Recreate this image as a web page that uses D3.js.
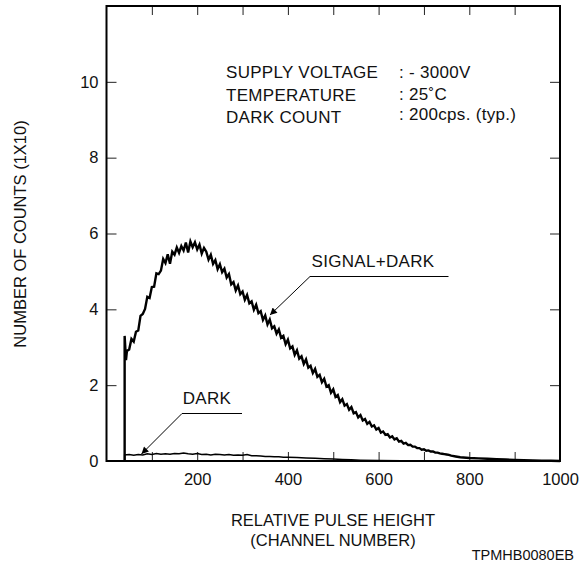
<!DOCTYPE html>
<html><head><meta charset="utf-8">
<script src="https://cdn.jsdelivr.net/npm/d3@7"></script>
<style>
html,body{margin:0;padding:0;background:#fff;}
svg{display:block;font-family:"Liberation Sans",Arial,Helvetica,sans-serif;}
</style></head>
<body>
<svg id="chart" width="580" height="569"></svg>
<script>
// ---- data ----
const xTickLabels = [200, 400, 600, 800, 1000];
const xMinorTicks = [100, 200, 300, 400, 500, 600, 700, 800, 900];
const yTickLabels = [0, 2, 4, 6, 8, 10];
const yInnerTicks = [2, 4, 6, 8, 10];

const signalChannel = [40,40,43,45,50,55,60,65,70,75,80,85,90,95,100,105,110,115,120,125,130,135,140,145,150,155,160,165,170,175,180,185,190,195,200,205,210,215,220,225,230,235,240,245,250,255,260,265,270,275,280,285,290,295,300,305,310,315,320,325,330,335,340,345,350,355,360,365,370,375,380,385,390,395,400,405,410,415,420,425,430,435,440,445,450,455,460,465,470,475,480,485,490,495,500,505,510,515,520,525,530,535,540,545,550,555,560,565,570,575,580,585,590,595,600,605,610,615,620,625,630,635,640,645,650,655,660,665,670,675,680,685,690,695,700,705,710,715,720,725,730,735,740,745,750,755,760,770,780,800,820,840,860,880,900,920,940,960,980,1000];
const signalCounts = [0,3.3,2.66,2.9,2.94,3.22,3.15,3.41,3.44,3.83,3.88,4.01,4.33,4.3,4.59,4.6,4.95,4.93,5.02,5.33,5.22,5.45,5.2,5.52,5.44,5.63,5.49,5.67,5.55,5.76,5.5,5.79,5.64,5.77,5.58,5.71,5.47,5.62,5.52,5.31,5.44,5.2,5.3,5.06,5.19,4.98,5.07,4.84,4.93,4.66,4.72,4.5,4.63,4.4,4.47,4.25,4.38,4.16,4.21,3.99,4.12,3.9,3.95,3.72,3.84,3.6,3.73,3.5,3.55,3.36,3.47,3.25,3.3,3.08,3.2,2.97,3.02,2.8,2.92,2.7,2.76,2.56,2.68,2.46,2.51,2.32,2.43,2.22,2.27,2.08,2.17,1.96,2.0,1.8,1.89,1.69,1.74,1.55,1.63,1.46,1.5,1.35,1.42,1.26,1.29,1.15,1.21,1.07,1.11,0.98,1.03,0.91,0.94,0.83,0.87,0.75,0.78,0.69,0.71,0.62,0.65,0.57,0.6,0.51,0.53,0.46,0.48,0.42,0.43,0.38,0.38,0.34,0.34,0.3,0.31,0.27,0.28,0.25,0.25,0.22,0.22,0.2,0.19,0.18,0.17,0.16,0.14,0.12,0.1,0.08,0.07,0.06,0.05,0.04,0.03,0.02,0.015,0.01,0.005,0];

const darkChannel = [40,40,50,60,70,80,90,100,110,120,130,140,150,160,170,180,190,200,210,220,230,240,250,260,270,280,290,300,310,320,330,340,350,360,370,380,390,400,420,440,460,480,500,520,540,560,600,650,700];
const darkCounts = [0,0.16,0.17,0.15,0.17,0.16,0.19,0.17,0.2,0.18,0.19,0.18,0.2,0.19,0.21,0.19,0.18,0.2,0.17,0.18,0.16,0.18,0.17,0.16,0.17,0.15,0.16,0.15,0.17,0.14,0.14,0.13,0.12,0.12,0.11,0.11,0.1,0.1,0.09,0.08,0.07,0.06,0.05,0.04,0.03,0.02,0.01,0.005,0];

const conditionNames = ["SUPPLY VOLTAGE", "TEMPERATURE", "DARK COUNT"];
const conditionValues = [": - 3000V", ": 25˚C", ": 200cps. (typ.)"];

// ---- layout ----
const svg = d3.select("#chart");
const L = 106.5, R = 560, T = 6, B = 461;
const x = d3.scaleLinear().domain([0, 1000]).range([L, R]);
const y = d3.scaleLinear().domain([0, 12]).range([B, T]);
const FONT = "Liberation Sans, Arial, sans-serif";

// inner ticks
svg.append("g").attr("transform", `translate(0,${B})`)
  .call(d3.axisTop(x).tickValues(xMinorTicks).tickSize(9).tickFormat(""))
  .call(g => g.select(".domain").remove())
  .call(g => g.selectAll("line").attr("stroke", "#222"));
svg.append("g").attr("transform", `translate(0,${T})`)
  .call(d3.axisBottom(x).tickValues(xMinorTicks).tickSize(9).tickFormat(""))
  .call(g => g.select(".domain").remove())
  .call(g => g.selectAll("line").attr("stroke", "#222"));
svg.append("g").attr("transform", `translate(${L},0)`)
  .call(d3.axisRight(y).tickValues(yInnerTicks).tickSize(10).tickFormat(""))
  .call(g => g.select(".domain").remove())
  .call(g => g.selectAll("line").attr("stroke", "#222"));
svg.append("g").attr("transform", `translate(${R},0)`)
  .call(d3.axisLeft(y).tickValues(yInnerTicks).tickSize(10).tickFormat(""))
  .call(g => g.select(".domain").remove())
  .call(g => g.selectAll("line").attr("stroke", "#222"));

// tick labels
svg.append("g").attr("transform", `translate(0,${B})`)
  .call(d3.axisBottom(x).tickValues(xTickLabels).tickSize(0).tickPadding(12).tickFormat(d3.format("d")))
  .call(g => g.select(".domain").remove())
  .call(g => g.selectAll("text").attr("font-size", 16.5).attr("fill", "#111").attr("font-family", FONT));
svg.append("g").attr("transform", `translate(${L},0)`)
  .call(d3.axisLeft(y).tickValues(yTickLabels).tickSize(0).tickPadding(8).tickFormat(d3.format("d")))
  .call(g => g.select(".domain").remove())
  .call(g => g.selectAll("text").attr("font-size", 16.5).attr("fill", "#111").attr("font-family", FONT));

// frame
svg.append("rect").attr("x", L).attr("y", T).attr("width", R - L).attr("height", B - T)
  .attr("fill", "none").attr("stroke", "#000").attr("stroke-width", 2);

// curves
const line = d3.line().x(d => x(d[0])).y(d => y(d[1]));
svg.append("path").datum(darkChannel.map((c, i) => [c, darkCounts[i]]))
  .attr("d", line).attr("fill", "none").attr("stroke", "#000").attr("stroke-width", 1.5);
svg.append("path").datum(signalChannel.map((c, i) => [c, signalCounts[i]]))
  .attr("d", line).attr("fill", "none").attr("stroke", "#000").attr("stroke-width", 2.4).attr("stroke-linejoin", "miter");

// arrow marker
const defs = svg.append("defs");
defs.append("marker").attr("id", "ah").attr("viewBox", "0 0 10 10").attr("refX", 10).attr("refY", 5)
  .attr("markerWidth", 9).attr("markerHeight", 7).attr("markerUnits", "userSpaceOnUse").attr("orient", "auto")
  .append("path").attr("d", "M0,0 L10,5 L0,10 Z").attr("fill", "#000");

// annotations
function annot(label, tx, ty, lx1, lx2, ly, ax, ay) {
  svg.append("text").attr("x", tx).attr("y", ty).attr("text-anchor", "middle")
    .attr("font-size", 17).attr("letter-spacing", 0.3).attr("fill", "#111").text(label);
  svg.append("line").attr("x1", lx1).attr("x2", lx2).attr("y1", ly).attr("y2", ly)
    .attr("stroke", "#000").attr("stroke-width", 1);
  svg.append("line").attr("x1", lx1).attr("y1", ly).attr("x2", ax).attr("y2", ay)
    .attr("stroke", "#000").attr("stroke-width", 1).attr("marker-end", "url(#ah)");
}
annot("DARK", 207, 404, 182, 242, 413.5, 141.5, 454);
annot("SIGNAL+DARK", 373, 267, 310, 448.5, 276.5, 270, 315);

// conditions block
const cond = svg.append("g").attr("font-size", 17).attr("letter-spacing", 0.3).attr("fill", "#111");
const rowY = [78, 101, 123];
const valY = [78, 99.5, 120];
conditionNames.forEach((n, i) => {
  cond.append("text").attr("x", 226).attr("y", rowY[i]).text(n);
  cond.append("text").attr("x", 399).attr("y", valY[i]).text(conditionValues[i]);
});

// axis titles
svg.append("text").attr("x", 333).attr("y", 526).attr("text-anchor", "middle")
  .attr("font-size", 16.5).attr("fill", "#111").text("RELATIVE PULSE HEIGHT");
svg.append("text").attr("x", 333).attr("y", 546).attr("text-anchor", "middle")
  .attr("font-size", 16.5).attr("fill", "#111").text("(CHANNEL NUMBER)");
svg.append("text").attr("transform", "translate(26,234) rotate(-90)").attr("text-anchor", "middle")
  .attr("font-size", 16.5).attr("fill", "#111").text("NUMBER OF COUNTS (1X10)");
svg.append("text").attr("x", 574).attr("y", 560).attr("text-anchor", "end")
  .attr("font-size", 14.5).attr("fill", "#111").text("TPMHB0080EB");
</script>
</body></html>
